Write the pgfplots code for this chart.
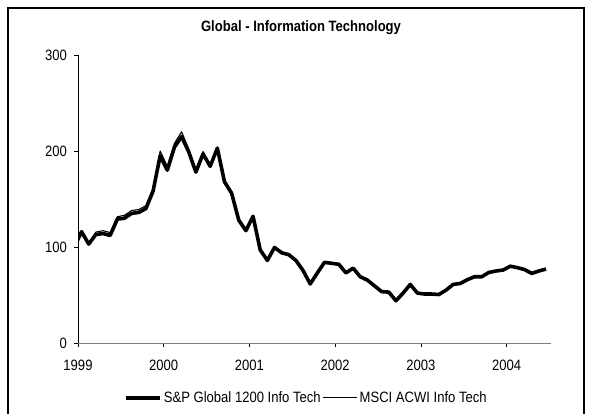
\documentclass[border=0pt]{standalone}
\usepackage{fontspec}
\setmainfont{Liberation Sans}[FakeStretch=0.87]
\usepackage{pgfplots}
\usepackage{pgfplotstable}
\pgfplotsset{compat=1.18}

% Monthly index levels; x = months since January 1999
\pgfplotstableread{
x     sp     msci
-0.5  100    100
0.5   116    117
1.5   103    104
2.5   113    115.5
3.5   114    117
4.5   112    115
5.5   129    131.5
6.5   130    133
7.5   135    138
8.5   136    139
9.5   140    143
10.5  158    161
11.5  195    200
12.5  180    184
13.5  204    208
14.5  215    220
15.5  199    202
16.5  178    180
17.5  197    199.5
18.5  184    186
19.5  203    204
20.5  168    168.5
21.5  156    157
22.5  128    128
23.5  117    117
24.5  132    133
25.5  97     97
26.5  86     86
27.5  99.5   99.5
28.5  94     94
29.5  92     92
30.5  86     86
31.5  75.5   75.5
32.5  61.5   61.5
33.5  73     73
34.5  84     84
35.5  83     83
36.5  82     82
37.5  73     73
38.5  78     78
39.5  69     69
40.5  65.5   65.5
41.5  59.5   59.5
42.5  53.5   53.5
43.5  53     53
44.5  44     44
45.5  52     52
46.5  61     61
47.5  52     52
48.5  51     51
49.5  51     51
50.5  50.5   50.5
51.5  55     55
52.5  61     61
53.5  62     62
54.5  66     66
55.5  69     69
56.5  69     69
57.5  73.5   73.5
58.5  75     75
59.5  76     76
60.5  80     80
61.5  78.5   78.5
62.5  76.5   76.5
63.5  72.5   72.5
64.5  75     75
65.5  77     77
}\itdata

\begin{document}
\begin{tikzpicture}[x=1pt,y=1pt]
\useasboundingbox (0,0) rectangle (590,414);
% chart frame
\draw[line width=1.2pt] (8,-10) -- (8,406) -- (584,406) -- (584,-10);
\node[font=\bfseries\fontsize{15}{18}\selectfont] at (301,386) {Global - Information Technology};
\begin{axis}[
  at={(78pt,71pt)}, anchor=origin,
  scale only axis, width=473pt, height=288pt,
  xmin=0, xmax=66.2, ymin=0, ymax=300,
  axis x line=bottom, axis y line=left,
  x axis line style={-, gray, line width=0.8pt},
  y axis line style={-, black, line width=0.8pt},
  xtick={0,12,24,36,48,60},
  xticklabels={1999,2000,2001,2002,2003,2004},
  ytick={0,100,200,300},
  tick align=outside, major tick length=4pt,
  tick style={black, line width=0.6pt},
  minor tick num=0,
  font=\fontsize{15}{18}\selectfont,
  /pgf/number format/assume math mode=true,
  yticklabel style={inner sep=0pt, xshift=-7pt},
  xticklabel style={inner sep=0pt, yshift=-13pt},
  legend columns=2,
  legend style={at={(0.482,-0.19)}, anchor=center, draw=none, fill=none,
    inner sep=0pt, column sep=1pt,
    nodes={inner sep=1pt, font=\fontsize{15}{18}\selectfont}},
  legend image code/.code={\draw[#1] (0pt,0pt) -- (34pt,0pt);},
  line join=round,
]
\addplot[black, line width=3.6pt, line join=round] table[x=x, y=sp] {\itdata};
\addlegendentry{S\&P Global 1200 Info Tech}
\addplot[black, line width=1.1pt, line join=round] table[x=x, y=msci] {\itdata};
\addlegendentry{MSCI ACWI Info Tech}
\end{axis}
\end{tikzpicture}
\end{document}
